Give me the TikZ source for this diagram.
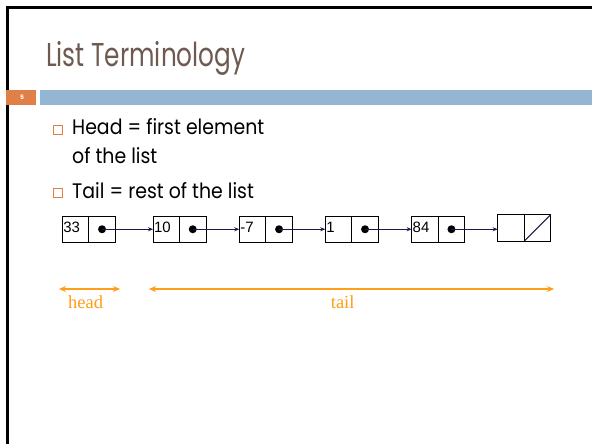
\documentclass[tikz,border=0pt]{standalone}
\usepackage{fontspec}
\setmainfont{Poppins}
\newfontfamily\titlef[FakeStretch=0.75]{Poppins}
\newfontfamily\bodyf[FakeStretch=0.9]{Poppins}
\newfontfamily\arialf{Liberation Sans}
\newfontfamily\timesf{Liberation Serif}
\usetikzlibrary{arrows.meta}
\definecolor{titlec}{RGB}{110,90,80}
\definecolor{barblue}{RGB}{148,182,210}
\definecolor{barorange}{RGB}{224,128,70}
\definecolor{ptrc}{RGB}{30,22,70}
\definecolor{annc}{RGB}{255,158,24}
\tikzset{
  cell/.style={draw=black, line width=0.8pt, minimum width=26.5pt, minimum height=26.5pt, inner sep=0pt, outer sep=0pt},
  valcell/.style={cell, text width=24.5pt, align=left, inner xsep=1pt, text depth=4pt, font=\arialf\fontsize{15}{15}\selectfont},
  dot/.style={circle, fill=black, minimum size=8pt, inner sep=0pt},
  ptr/.style={draw=ptrc, line width=0.9pt, -{Stealth[length=5pt, width=4pt]}},
  ann/.style={draw=annc, line width=2pt, {Stealth[length=7pt,width=6pt]}-{Stealth[length=7pt,width=6pt]}},
  annlbl/.style={text=annc, font=\timesf\fontsize{18.5}{18.5}\selectfont, inner sep=0pt},
  bullet/.style={draw=barorange, line width=0.9pt, minimum size=9pt, inner sep=0pt},
  btext/.style={anchor=base west, inner sep=0pt, font=\bodyf\fontsize{21}{21}\selectfont, text=black}
}
\begin{document}
\begin{tikzpicture}[x=1pt,y=-1pt]
\useasboundingbox (0,0) rectangle (592,444);
\fill[white] (0,0) rectangle (592,444);
% slide frame
\draw[black, line width=3pt] (7.5,444) -- (7.5,7.5) -- (592,7.5);
% title
\node[anchor=base west, inner sep=0pt, text=titlec, font=\titlef\fontsize{33}{33}\selectfont] (title) at (46,66.7) {List Terminology};
% bars
\fill[barorange] (6,90) rectangle (36,105);
\fill[barblue] (40,90) rectangle (592,105);
\node[text=white, font=\bfseries\fontsize{6}{6}\selectfont, inner sep=0pt] (num) at (22,97.5) {5};
% bullets
\node[bullet] (b1) at (57.5,129.5) {};
\node[btext] (t1) at (72,135) {Head = first element};
\node[btext] (t1b) at (72,163) {of the list};
\node[bullet] (b2) at (57.5,193) {};
\node[btext] (t2) at (72,198.5) {Tail = rest of the list};
% list nodes
\node[valcell, anchor=north west] (v1) at (62.3,216) {33};
\node[cell, anchor=west] (p1) at (v1.east) {};
\node[valcell, anchor=north west] (v2) at (153,216) {10};
\node[cell, anchor=west] (p2) at (v2.east) {};
\node[valcell, anchor=north west] (v3) at (239.3,216) {-7};
\node[cell, anchor=west] (p3) at (v3.east) {};
\node[valcell, anchor=north west] (v4) at (325.3,216) {1};
\node[cell, anchor=west] (p4) at (v4.east) {};
\node[valcell, anchor=north west] (v5) at (411.7,216) {84};
\node[cell, anchor=west] (p5) at (v5.east) {};
\node[cell, anchor=north west] (v6) at (497.7,214.7) {};
\node[cell, anchor=west] (p6) at (v6.east) {};
\draw[ptrc, line width=1pt] (p6.south west) -- (p6.north east);
\foreach \i in {1,...,5} {\node[dot] (d\i) at (p\i.center) {};}
\draw[ptr] (d1.center) -- (v2.west);
\draw[ptr] (d2.center) -- (v3.west);
\draw[ptr] (d3.center) -- (v4.west);
\draw[ptr] (d4.center) -- (v5.west);
\draw[ptr] (d5.center) -- (d5.center -| v6.west);
% annotations
\coordinate (ha) at (59,289);
\coordinate (hb) at (120,289);
\coordinate (ta) at (149,289);
\coordinate (tb) at (554,289);
\draw[ann] (ha) -- (hb);
\draw[ann] (ta) -- (tb);
\node[annlbl, anchor=base] (hl) at (85.7,308) {head};
\node[annlbl, anchor=base] (tl) at (342.7,308) {tail};
\end{tikzpicture}
\end{document}
